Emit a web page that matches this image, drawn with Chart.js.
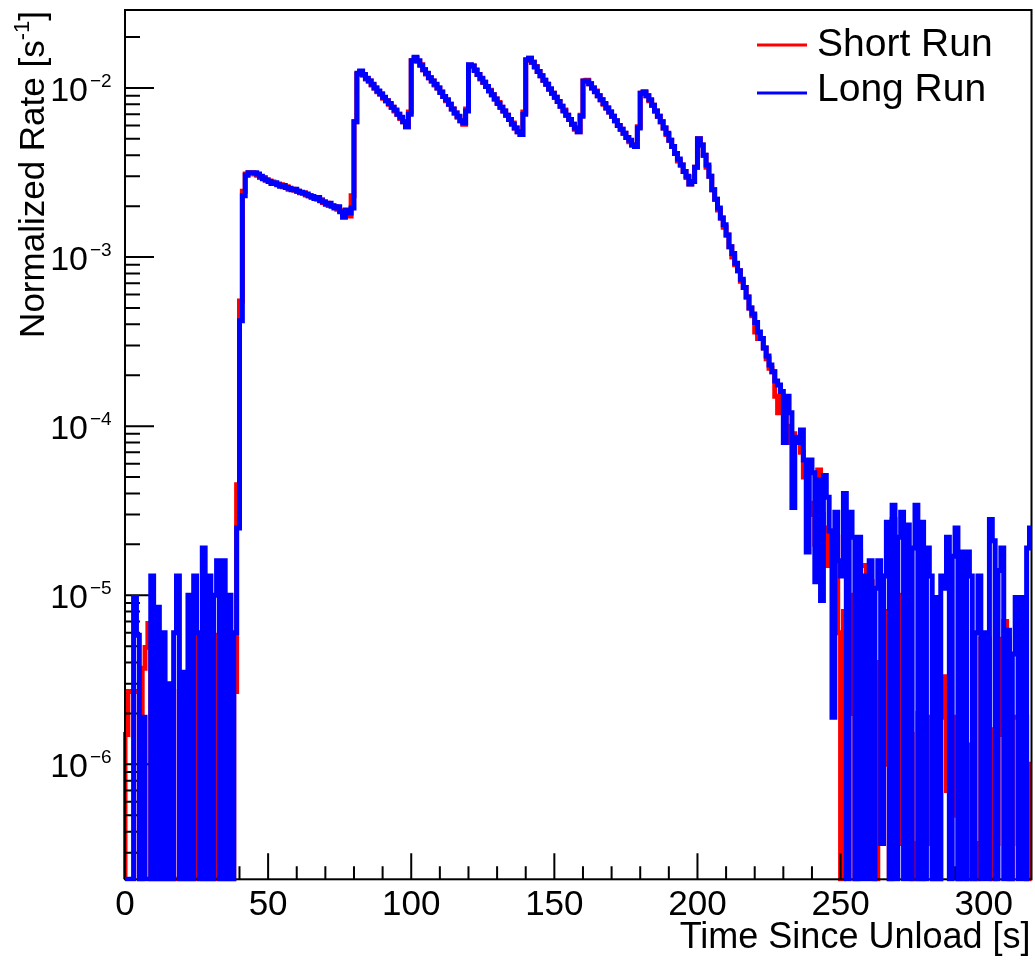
<!DOCTYPE html>
<html lang="en">
<head>
<meta charset="UTF-8">
<title>Normalized Rate vs Time Since Unload</title>
<script src="https://cdn.jsdelivr.net/npm/chart.js"></script>
<style>
    html, body { margin: 0; padding: 0; background: #fff; }
    canvas { display: block; }
</style>
</head>
<body>
<canvas id="rateChart" width="1035" height="963"></canvas>
<script>
// histogram contents, 1 s bins starting at t = 0 (0 = empty bin)
var shortRun = [
    1.5e-6, 2.7e-6, 2.7e-6, 2.7e-6, 2.7e-6, 0, 3.7e-6, 4.9e-6, 6.8e-6, 0,
    2.7e-6, 0, 0, 2.7e-6, 0, 0, 2.7e-6, 0, 0, 2.7e-6,
    0, 0, 0, 4.9e-6, 0, 5.8e-6, 2.7e-6, 0, 0, 5.8e-6,
    0, 5.8e-6, 0, 5.8e-6, 0, 2.7e-6, 0, 0, 2.7e-6, 4.5e-5,
    5.5e-4, 2.45e-3, 3.1e-3, 3.15e-3, 3.15e-3, 3.1e-3, 3.05e-3, 2.95e-3, 2.95e-3, 2.85e-3,
    2.82e-3, 2.78e-3, 2.72e-3, 2.7e-3, 2.68e-3, 2.6e-3, 2.6e-3, 2.52e-3, 2.52e-3, 2.48e-3,
    2.45e-3, 2.4e-3, 2.4e-3, 2.33e-3, 2.3e-3, 2.25e-3, 2.25e-3, 2.2e-3, 2.18e-3, 2.1e-3,
    2.08e-3, 2.02e-3, 2.02e-3, 1.98e-3, 1.92e-3, 1.88e-3, 1.8e-3, 1.78e-3, 1.75e-3, 2.3e-3,
    6.3e-3, 1.2e-2, 1.25e-2, 1.19e-2, 1.13e-2, 1.1e-2, 1.04e-2, 1.0e-2, 9.5e-3, 9.2e-3,
    8.7e-3, 8.4e-3, 8.0e-3, 7.7e-3, 7.3e-3, 7.0e-3, 6.6e-3, 6.3e-3, 5.9e-3, 7.2e-3,
    1.45e-2, 1.5e-2, 1.44e-2, 1.37e-2, 1.28e-2, 1.21e-2, 1.15e-2, 1.1e-2, 1.04e-2, 1.0e-2,
    9.5e-3, 8.9e-3, 8.4e-3, 8.0e-3, 7.5e-3, 7.1e-3, 6.7e-3, 6.4e-3, 6.1e-3, 7.5e-3,
    1.36e-2, 1.35e-2, 1.28e-2, 1.2e-2, 1.13e-2, 1.08e-2, 1.02e-2, 9.7e-3, 9.1e-3, 8.6e-3,
    8.2e-3, 7.7e-3, 7.3e-3, 6.9e-3, 6.5e-3, 6.2e-3, 5.8e-3, 5.5e-3, 5.3e-3, 7.2e-3,
    1.46e-2, 1.5e-2, 1.42e-2, 1.34e-2, 1.25e-2, 1.18e-2, 1.11e-2, 1.05e-2, 9.8e-3, 9.3e-3,
    8.8e-3, 8.3e-3, 7.8e-3, 7.4e-3, 6.9e-3, 6.5e-3, 6.1e-3, 5.7e-3, 5.5e-3, 6.9e-3,
    1.1e-2, 1.11e-2, 1.06e-2, 1.0e-2, 9.6e-3, 9.0e-3, 8.5e-3, 8.0e-3, 7.6e-3, 7.2e-3,
    6.8e-3, 6.4e-3, 6.0e-3, 5.7e-3, 5.4e-3, 5.1e-3, 4.8e-3, 4.6e-3, 4.5e-3, 5.9e-3,
    9.3e-3, 9.4e-3, 9.0e-3, 8.4e-3, 7.9e-3, 7.3e-3, 6.8e-3, 6.3e-3, 5.8e-3, 5.3e-3,
    4.9e-3, 4.5e-3, 4.1e-3, 3.7e-3, 3.5e-3, 3.2e-3, 2.95e-3, 2.7e-3, 2.8e-3, 3.4e-3,
    5.0e-3, 4.6e-3, 4.0e-3, 3.4e-3, 3.0e-3, 2.5e-3, 2.2e-3, 1.9e-3, 1.7e-3, 1.5e-3,
    1.35e-3, 1.15e-3, 1.0e-3, 9.0e-4, 8.3e-4, 7.2e-4, 6.6e-4, 5.8e-4, 5.0e-4, 4.5e-4,
    3.6e-4, 3.3e-4, 3.3e-4, 2.9e-4, 2.5e-4, 2.2e-4, 2.1e-4, 1.5e-4, 1.2e-4, 1.5e-4,
    1.4e-4, 1.0e-4, 8.0e-5, 9.0e-5, 8.0e-5, 8.5e-5, 7.0e-5, 5.0e-5, 5.5e-5, 3.0e-5,
    3.5e-5, 2.0e-5, 5.5e-5, 3.0e-5, 2.5e-5, 1.5e-5, 2.4e-5, 2.4e-5, 2.2e-5, 6.0e-6,
    0, 8.0e-6, 4.0e-6, 1.0e-5, 2.0e-6, 0, 1.8e-5, 1.5e-5, 1.5e-5, 6.0e-6,
    1.2e-5, 3.0e-6, 0, 4.0e-6, 3.4e-7, 8.0e-6, 1.0e-6, 0, 2.8e-5, 6.0e-6,
    1.0e-5, 3.4e-7, 7.0e-6, 6.0e-6, 1.5e-6, 0, 3.4e-7, 2.0e-6, 0, 1.0e-6,
    3.4e-7, 1.9e-6, 0, 3.4e-7, 0, 1.9e-6, 3.3e-6, 7.0e-7, 1.9e-6, 5.0e-7,
    1.9e-6, 0, 5.5e-6, 5.5e-6, 0, 1.3e-6, 3.4e-7, 0, 3.4e-7, 5.5e-6,
    3.7e-6, 5.5e-6, 1.6e-6, 0, 3.4e-7, 1.5e-6, 5.5e-6, 7.0e-6, 5.5e-6, 0,
    1.9e-6, 1.9e-6, 3.4e-7, 3.4e-7, 1.9e-6, 0, 1.0e-6
];

var longRun = [
    0, 0, 0, 9.7e-6, 5.8e-6, 0, 1.9e-6, 0, 0, 1.3e-5,
    0, 8.5e-6, 0, 6.0e-6, 0, 3.0e-6, 0, 6.0e-6, 1.3e-5, 0,
    3.5e-6, 0, 1.0e-5, 0, 1.3e-5, 6.0e-6, 0, 1.9e-5, 0, 1.3e-5,
    0, 1.0e-5, 1.6e-5, 0, 1.6e-5, 0, 1.0e-5, 0, 6.0e-6, 2.5e-5,
    4.2e-4, 2.3e-3, 3.05e-3, 3.15e-3, 3.15e-3, 3.15e-3, 3.1e-3, 3.0e-3, 2.9e-3, 2.85e-3,
    2.8e-3, 2.72e-3, 2.75e-3, 2.68e-3, 2.62e-3, 2.65e-3, 2.58e-3, 2.55e-3, 2.5e-3, 2.52e-3,
    2.45e-3, 2.42e-3, 2.38e-3, 2.36e-3, 2.3e-3, 2.28e-3, 2.22e-3, 2.25e-3, 2.15e-3, 2.12e-3,
    2.05e-3, 2.08e-3, 2.0e-3, 1.95e-3, 1.98e-3, 1.85e-3, 1.72e-3, 1.9e-3, 1.82e-3, 1.95e-3,
    6.3e-3, 1.22e-2, 1.26e-2, 1.2e-2, 1.14e-2, 1.1e-2, 1.05e-2, 1.0e-2, 9.6e-3, 9.2e-3,
    8.8e-3, 8.4e-3, 8.1e-3, 7.7e-3, 7.4e-3, 7.0e-3, 6.7e-3, 6.3e-3, 5.9e-3, 7.0e-3,
    1.45e-2, 1.52e-2, 1.45e-2, 1.36e-2, 1.28e-2, 1.22e-2, 1.15e-2, 1.1e-2, 1.05e-2, 1.0e-2,
    9.4e-3, 8.9e-3, 8.5e-3, 8.0e-3, 7.5e-3, 7.1e-3, 6.8e-3, 6.4e-3, 6.2e-3, 7.3e-3,
    1.37e-2, 1.35e-2, 1.27e-2, 1.2e-2, 1.14e-2, 1.08e-2, 1.02e-2, 9.6e-3, 9.1e-3, 8.6e-3,
    8.1e-3, 7.7e-3, 7.3e-3, 6.9e-3, 6.5e-3, 6.1e-3, 5.8e-3, 5.5e-3, 5.3e-3, 7.0e-3,
    1.47e-2, 1.5e-2, 1.42e-2, 1.33e-2, 1.25e-2, 1.18e-2, 1.11e-2, 1.05e-2, 9.9e-3, 9.3e-3,
    8.8e-3, 8.3e-3, 7.8e-3, 7.3e-3, 6.9e-3, 6.5e-3, 6.1e-3, 5.8e-3, 5.5e-3, 6.8e-3,
    1.1e-2, 1.1e-2, 1.06e-2, 1.0e-2, 9.5e-3, 9.0e-3, 8.5e-3, 8.1e-3, 7.6e-3, 7.2e-3,
    6.8e-3, 6.4e-3, 6.0e-3, 5.7e-3, 5.4e-3, 5.1e-3, 4.9e-3, 4.6e-3, 4.5e-3, 5.8e-3,
    9.3e-3, 9.5e-3, 9.0e-3, 8.5e-3, 7.9e-3, 7.3e-3, 6.8e-3, 6.3e-3, 5.8e-3, 5.4e-3,
    4.9e-3, 4.5e-3, 4.1e-3, 3.8e-3, 3.5e-3, 3.2e-3, 3.0e-3, 2.7e-3, 2.8e-3, 3.4e-3,
    5.0e-3, 4.6e-3, 4.0e-3, 3.5e-3, 3.0e-3, 2.5e-3, 2.2e-3, 1.95e-3, 1.7e-3, 1.55e-3,
    1.35e-3, 1.15e-3, 1.05e-3, 9.2e-4, 8.3e-4, 7.4e-4, 6.6e-4, 5.8e-4, 5.0e-4, 4.6e-4,
    4.1e-4, 3.6e-4, 3.3e-4, 2.9e-4, 2.6e-4, 2.3e-4, 2.1e-4, 1.85e-4, 1.75e-4, 1.6e-4,
    8.0e-5, 1.5e-4, 1.2e-4, 3.3e-5, 8.6e-5, 8.0e-5, 9.5e-5, 6.3e-5, 1.8e-5, 6.3e-5,
    5.3e-5, 1.2e-5, 4.8e-5, 9.3e-6, 5.1e-5, 3.8e-5, 2.4e-5, 1.9e-6, 3.1e-5, 1.6e-5,
    1.3e-5, 4.0e-5, 0, 3.1e-5, 2.2e-5, 0, 2.2e-5, 0, 1.3e-5, 0,
    1.6e-5, 0, 1.1e-5, 1.6e-5, 3.4e-7, 1.3e-5, 2.7e-5, 0, 3.4e-5, 0,
    2.2e-5, 3.1e-5, 0, 2.6e-5, 0, 1.9e-5, 3.4e-5, 0, 2.7e-5, 0,
    1.9e-5, 1.3e-5, 0, 9.7e-6, 0, 1.3e-5, 1.1e-5, 2.2e-5, 0, 1.7e-5,
    2.5e-5, 0, 1.8e-5, 0, 1.8e-5, 1.3e-5, 0, 6.0e-6, 1.3e-5, 0,
    6.0e-6, 0, 2.8e-5, 2.1e-5, 0, 1.4e-5, 1.9e-5, 0, 6.2e-6, 0,
    4.5e-6, 9.7e-6, 0, 9.7e-6, 0, 1.9e-5, 2.5e-5
];

var xTickLabels = [0, 50, 100, 150, 200, 250, 300];
var yDecades = [-6, -5, -4, -3, -2];

var xMin = 0, xMax = 316.7;
var yMin = 2.09e-7, yMax = 2.89e-2;

var FONT = '"Liberation Sans", Arial, Helvetica, sans-serif';

// histogram -> stepped points, empty bins drop to the frame bottom like ROOT does
function toSteps(values) {
    var pts = [{ x: 0, y: yMin }];
    values.forEach(function (v, i) {
        pts.push({ x: i, y: v > 0 ? v : yMin });
    });
    pts.push({ x: values.length, y: pts[pts.length - 1].y });
    return pts;
}

function drawParts(ctx, parts, x, y, align) {
    var total = 0;
    parts.forEach(function (p) {
        ctx.font = p.size + 'px ' + FONT;
        p.w = ctx.measureText(p.text).width;
        total += p.w;
    });
    var cx = align === 'right' ? x - total : x;
    ctx.textAlign = 'left';
    ctx.textBaseline = 'alphabetic';
    parts.forEach(function (p) {
        ctx.font = p.size + 'px ' + FONT;
        ctx.fillText(p.text, cx, y + (p.dy || 0));
        cx += p.w;
    });
}

function drawFrame(chart) {
    var ctx = chart.ctx;
    var a = chart.chartArea;
    var xs = chart.scales.x, ys = chart.scales.y;
    ctx.save();
    ctx.strokeStyle = '#000';
    ctx.lineWidth = 2;
    ctx.strokeRect(a.left, a.top, a.right - a.left, a.bottom - a.top);

    ctx.beginPath();
    // x ticks: major every 50, minor every 10, pointing inward
    for (var t = 10; t <= xMax; t += 10) {
        var px = xs.getPixelForValue(t);
        var len = t % 50 === 0 ? 26 : 13;
        ctx.moveTo(px, a.bottom);
        ctx.lineTo(px, a.bottom - len);
    }
    // y ticks: decades long, 2..9 short
    for (var d = -7; d <= -1; d++) {
        for (var m = 1; m <= 9; m++) {
            var v = m * Math.pow(10, d);
            if (v < yMin || v > yMax) continue;
            var py = ys.getPixelForValue(v);
            ctx.moveTo(a.left, py);
            ctx.lineTo(a.left + (m === 1 ? 29 : 15), py);
        }
    }
    ctx.stroke();
    ctx.restore();
}

function drawText(chart) {
    var ctx = chart.ctx;
    var a = chart.chartArea;
    var xs = chart.scales.x, ys = chart.scales.y;
    ctx.save();
    ctx.fillStyle = '#000';

    ctx.font = '35px ' + FONT;
    ctx.textAlign = 'center';
    ctx.textBaseline = 'alphabetic';
    xTickLabels.forEach(function (t) {
        ctx.fillText(String(t), xs.getPixelForValue(t), 915);
    });

    yDecades.forEach(function (d) {
        var py = ys.getPixelForValue(Math.pow(10, d));
        ctx.font = '34px ' + FONT;
        ctx.textAlign = 'right';
        ctx.fillText('10', 88, py + 13);
        ctx.font = '19px ' + FONT;
        ctx.textAlign = 'left';
        ctx.fillText('\u2212' + Math.abs(d), 90, py - 1);
    });

    // axis titles, aligned to the axis end as in ROOT
    drawParts(ctx, [{ text: 'Time Since Unload [s]', size: 36 }], a.right - 1, 948, 'right');

    ctx.save();
    ctx.translate(44, 11);
    ctx.rotate(-Math.PI / 2);
    drawParts(ctx, [
        { text: 'Normalized Rate [s', size: 35 },
        { text: '-1', size: 22, dy: -15 },
        { text: ']', size: 35 }
    ], 0, 0, 'right');
    ctx.restore();

    // legend
    var entries = [
        { label: 'Short Run', color: '#ff0000', y: 45, base: 56 },
        { label: 'Long Run', color: '#0000ff', y: 93, base: 101 }
    ];
    entries.forEach(function (e) {
        ctx.strokeStyle = e.color;
        ctx.lineWidth = 3;
        ctx.beginPath();
        ctx.moveTo(757, e.y);
        ctx.lineTo(807, e.y);
        ctx.stroke();
        ctx.font = '39px ' + FONT;
        ctx.textAlign = 'left';
        ctx.fillText(e.label, 817, e.base);
    });
    ctx.restore();
}

var rootStyle = {
    id: 'rootStyle',
    afterDatasetDraw: function (chart, args) {
        // axes sit above the first histogram, the second one is drawn with "same" on top
        if (args.index === 0) drawFrame(chart);
    },
    afterDraw: function (chart) {
        drawText(chart);
    }
};

var ctx = document.getElementById('rateChart').getContext('2d');
var rateChart = new Chart(ctx, {
    type: 'line',
    data: {
        datasets: [{
            label: 'Short Run',
            data: toSteps(shortRun),
            borderColor: '#ff0000',
            borderWidth: 5,
            stepped: 'before',
            order: 2,
            clip: { left: 2, right: 0, top: 0, bottom: 2 }
        }, {
            label: 'Long Run',
            data: toSteps(longRun),
            borderColor: '#0000ff',
            borderWidth: 5,
            stepped: 'before',
            order: 1,
            clip: { left: 2, right: 0, top: 0, bottom: 2 }
        }]
    },
    options: {
        responsive: false,
        animation: false,
        devicePixelRatio: 1,
        layout: { padding: { left: 125, top: 10, right: 3.5, bottom: 83.7 } },
        plugins: { legend: { display: false }, tooltip: { enabled: false } },
        elements: { point: { radius: 0 }, line: { tension: 0, fill: false } },
        scales: {
            x: { type: 'linear', min: xMin, max: xMax, display: false },
            y: { type: 'logarithmic', min: yMin, max: yMax, display: false }
        }
    },
    plugins: [rootStyle]
});
</script>
</body>
</html>
